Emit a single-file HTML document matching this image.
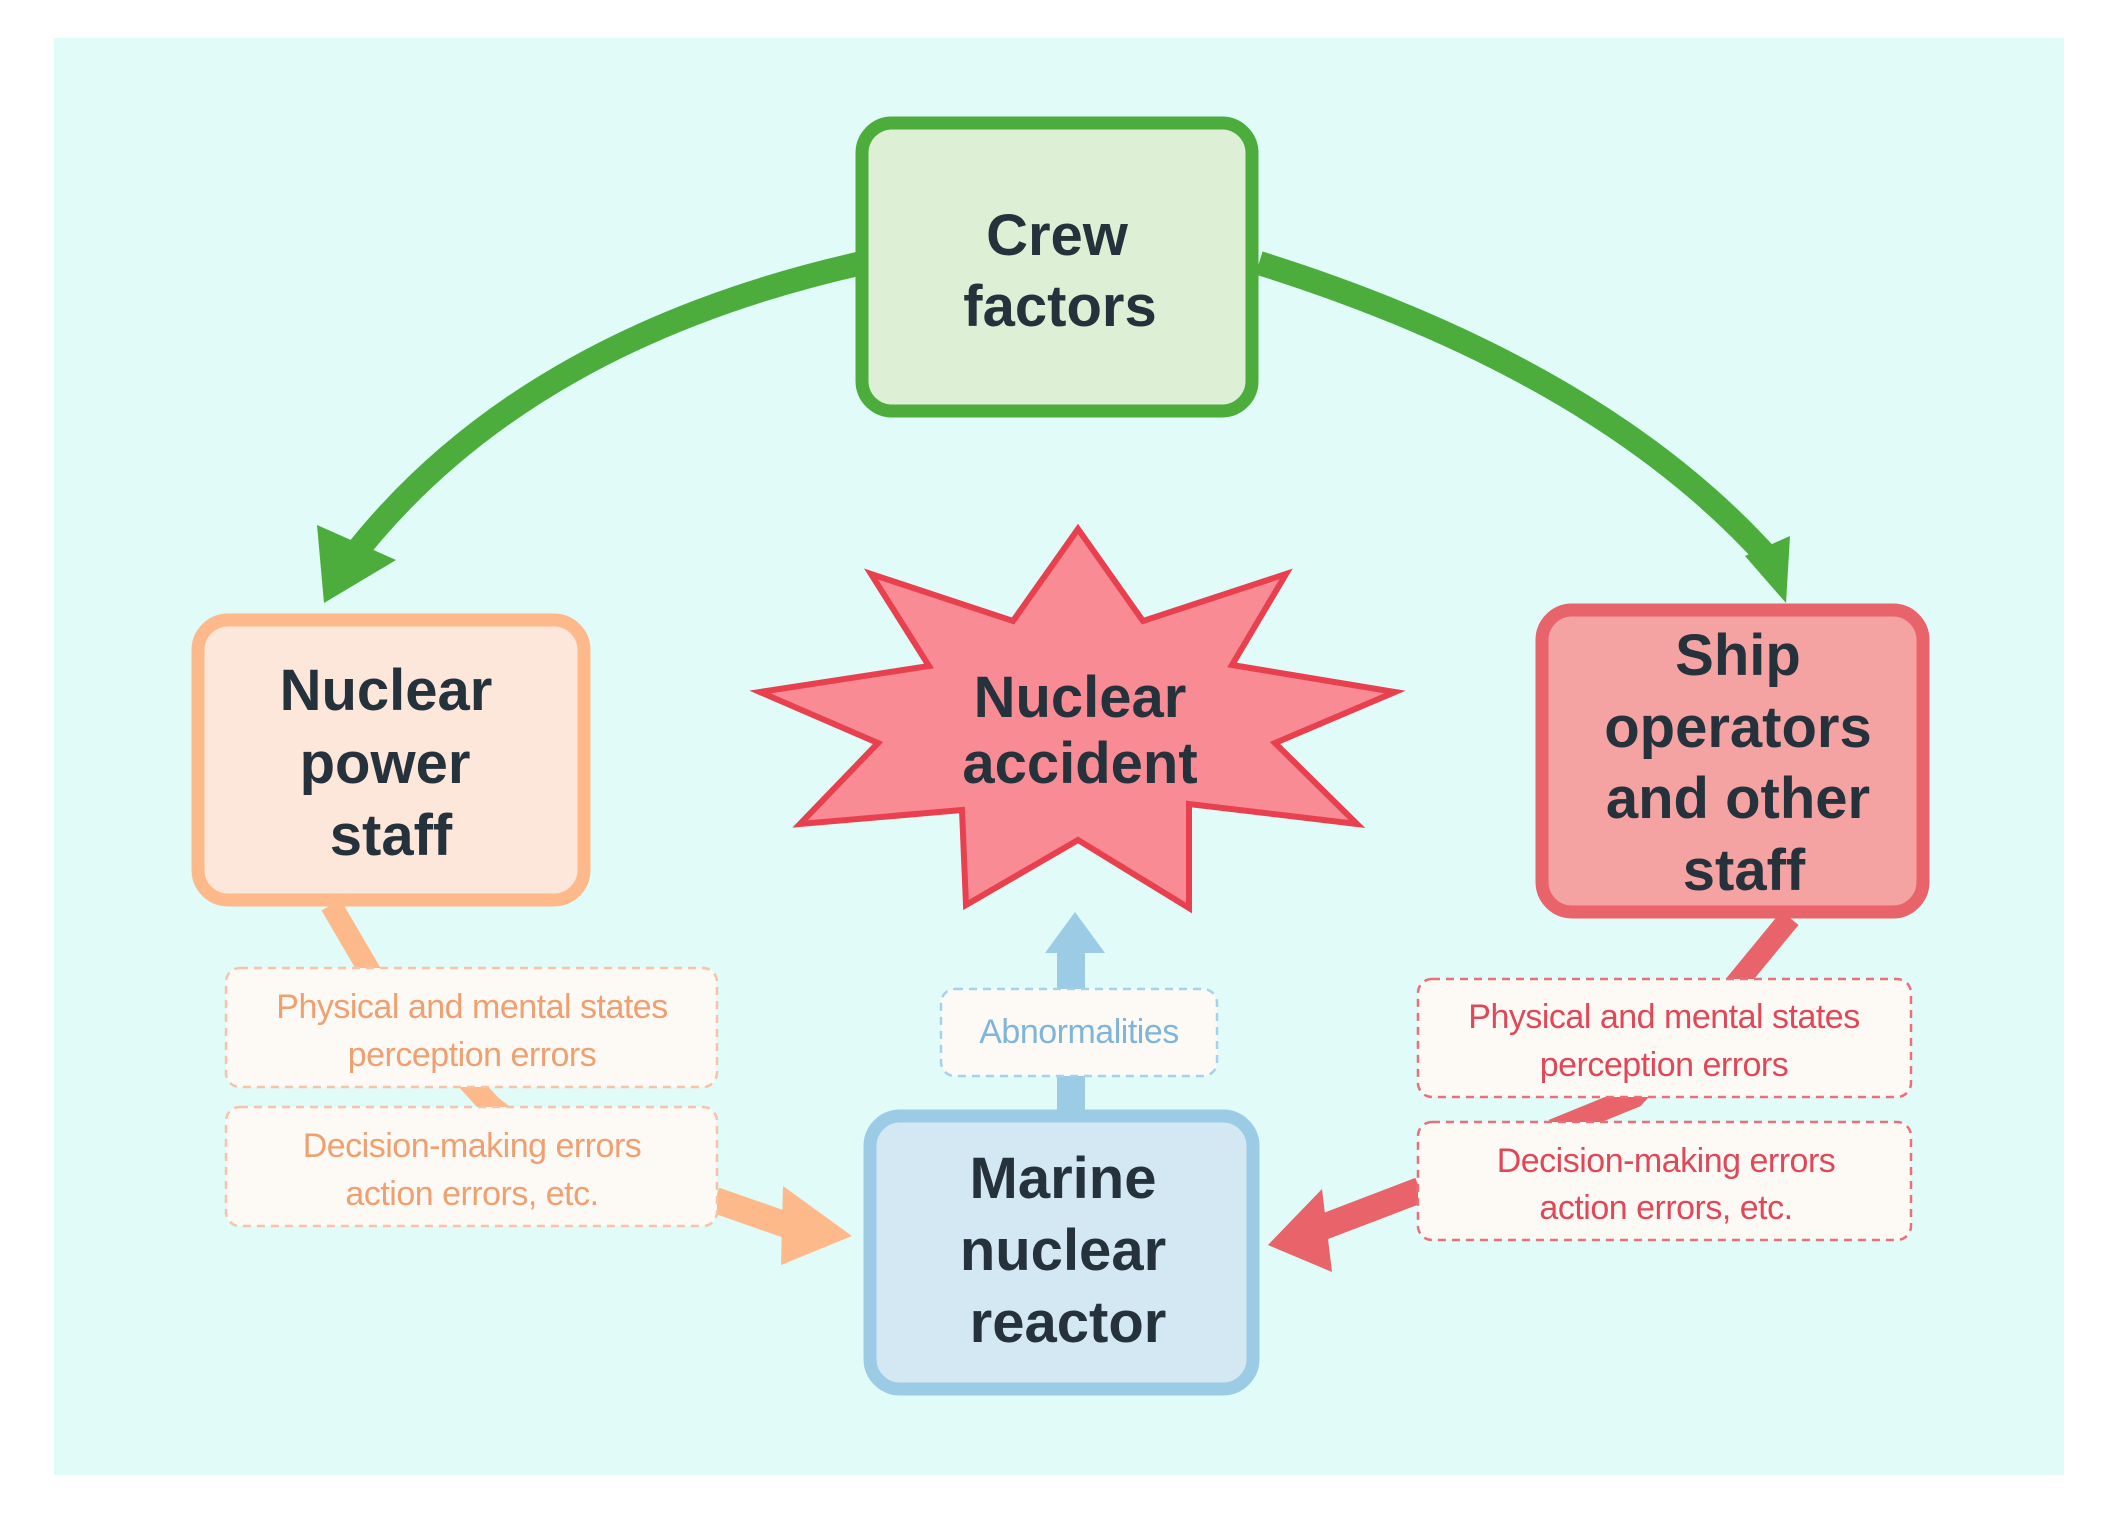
<!DOCTYPE html>
<html><head><meta charset="utf-8"><style>
html,body{margin:0;padding:0;background:#fff;}
svg{display:block;}
.t{font-family:"Liberation Sans",sans-serif;font-weight:bold;fill:#25323c;font-size:58px;text-anchor:middle;}
.l{font-family:"Liberation Sans",sans-serif;font-size:34px;text-anchor:middle;letter-spacing:-0.5px;}
</style></head><body>
<svg width="2107" height="1520" viewBox="0 0 2107 1520" xmlns="http://www.w3.org/2000/svg">
<rect x="54" y="38" width="2010" height="1437" fill="#e0fbf8"/>

<!-- green arcs -->
<path d="M862 263 Q520 340 350 560" fill="none" stroke="#4cad3c" stroke-width="24"/>
<polygon points="317,525 396,560 324,603" fill="#4cad3c"/>
<path d="M1259 263 Q1600 370 1770 560" fill="none" stroke="#4cad3c" stroke-width="24"/>
<polygon points="1745,556 1790,536 1786,603" fill="#4cad3c"/>

<!-- orange connector -->
<path d="M331 905 L372 975 L490 1105 L560 1160" fill="none" stroke="#fdb98a" stroke-width="22"/>
<path d="M715 1200 L795 1228" fill="none" stroke="#fdb98a" stroke-width="26"/>
<polygon points="783,1186 852,1236 781,1265" fill="#fdb98a"/>

<!-- red connector -->
<path d="M1790 918 L1735 985 L1634 1097 L1553 1130" fill="none" stroke="#e8636a" stroke-width="22"/>
<path d="M1420 1190 L1310 1232" fill="none" stroke="#e8636a" stroke-width="26"/>
<polygon points="1322,1189 1268,1245 1332,1272" fill="#e8636a"/>

<!-- blue arrow -->
<path d="M1071 1112 L1071 945" fill="none" stroke="#9ccbe6" stroke-width="28"/>
<polygon points="1045,953 1075,912 1105,953" fill="#9ccbe6"/>

<!-- boxes -->
<rect x="862" y="123" width="390" height="288" rx="30" fill="#ddf0d6" stroke="#4cad3c" stroke-width="13"/>
<text class="t" x="1057" y="255">Crew</text>
<text class="t" x="1060" y="326">factors</text>

<rect x="198" y="620" width="386" height="280" rx="30" fill="#fde6da" stroke="#fdb98a" stroke-width="13"/>
<text class="t" x="386" y="710">Nuclear</text>
<text class="t" x="385" y="783">power</text>
<text class="t" x="391" y="855">staff</text>

<rect x="1542" y="610" width="381" height="302" rx="30" fill="#f4a3a2" stroke="#e8636a" stroke-width="13"/>
<text class="t" x="1738" y="675">Ship</text>
<text class="t" x="1738" y="747">operators</text>
<text class="t" x="1738" y="818">and other</text>
<text class="t" x="1744" y="890">staff</text>

<rect x="870" y="1116" width="383" height="273" rx="30" fill="#d3e8f3" stroke="#9ccbe6" stroke-width="13"/>
<text class="t" x="1063" y="1198">Marine</text>
<text class="t" x="1063" y="1270">nuclear</text>
<text class="t" x="1068" y="1342">reactor</text>

<!-- star -->
<polygon points="1078,529 1143,621 1286,574 1232,665 1395,692 1275,743 1357,824 1189,804 1189,908 1078,840 966,905 962,810 800,824 878,743 760,692 929,666 871,574 1013,621" fill="#f98b94" stroke="#e8404e" stroke-width="6" stroke-linejoin="miter"/>
<text class="t" x="1080" y="717">Nuclear</text>
<text class="t" x="1080" y="783">accident</text>

<!-- labels -->
<g fill="#fdfaf6" stroke-dasharray="8,6" stroke-width="2.5">
<rect x="226" y="968" width="491" height="119" rx="14" stroke="#f5c4a8"/>
<rect x="226" y="1107" width="491" height="119" rx="14" stroke="#f5c4a8"/>
<rect x="1418" y="979" width="493" height="118" rx="14" stroke="#e8707a"/>
<rect x="1418" y="1122" width="493" height="118" rx="14" stroke="#e8707a"/>
<rect x="941" y="989" width="276" height="87" rx="14" stroke="#a8d0ea"/>
</g>
<g class="l" fill="#f0a070">
<text class="l" x="472" y="1018" fill="#f0a070">Physical and mental states</text>
<text class="l" x="472" y="1066" fill="#f0a070">perception errors</text>
<text class="l" x="472" y="1157" fill="#f0a070">Decision-making errors</text>
<text class="l" x="472" y="1205" fill="#f0a070">action errors, etc.</text>
</g>
<text class="l" x="1664" y="1028" fill="#e04858">Physical and mental states</text>
<text class="l" x="1664" y="1076" fill="#e04858">perception errors</text>
<text class="l" x="1666" y="1172" fill="#e04858">Decision-making errors</text>
<text class="l" x="1666" y="1219" fill="#e04858">action errors, etc.</text>
<text class="l" x="1079" y="1043" fill="#7fb5d8">Abnormalities</text>
</svg>
</body></html>
